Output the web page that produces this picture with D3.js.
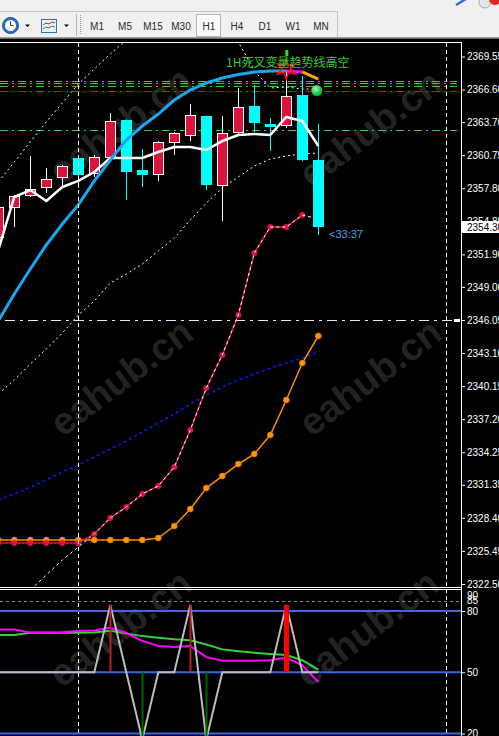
<!DOCTYPE html>
<html>
<head>
<meta charset="utf-8">
<script src="https://d3js.org/d3.v7.min.js"></script>
<style>
  body { margin: 0; background: #000; overflow: hidden; }
  svg { display: block; }
</style>
</head>
<body>
<script>
// ---- data ----
var barIdx = [-1, 0, 1, 2, 3, 4, 5, 6, 7, 8, 9, 10, 11, 12, 13, 14, 15, 16, 17, 18, 19];

var opens  = [2353.45, 2356.13, 2357.20, 2357.91, 2358.80, 2360.50, 2359.16, 2360.59, 2363.89, 2359.43, 2359.07, 2361.93, 2362.55, 2364.24, 2358.09, 2362.82, 2365.14, 2363.53, 2363.44, 2366.12, 2360.32];
var highs  = [2356.50, 2357.20, 2360.68, 2359.61, 2359.87, 2360.59, 2360.77, 2364.51, 2363.95, 2361.30, 2362.00, 2362.80, 2365.32, 2364.30, 2364.24, 2366.74, 2367.01, 2364.07, 2368.35, 2367.81, 2363.53];
var lows   = [2352.90, 2354.34, 2357.02, 2357.38, 2357.91, 2357.82, 2358.80, 2360.50, 2356.75, 2357.91, 2358.45, 2360.77, 2362.01, 2357.64, 2354.88, 2362.55, 2362.82, 2361.12, 2363.17, 2360.23, 2353.63];
var closes = [2356.13, 2357.11, 2357.73, 2358.63, 2359.78, 2358.98, 2360.59, 2363.80, 2359.25, 2358.98, 2361.93, 2362.73, 2364.33, 2358.09, 2362.73, 2365.05, 2363.62, 2363.26, 2366.03, 2360.32, 2354.30];

var maWhite   = [2352.29, 2357.02, 2357.64, 2356.66, 2357.91, 2358.45, 2359.25, 2360.50, 2360.50, 2360.50, 2361.03, 2361.48, 2361.48, 2361.21, 2362.01, 2362.55, 2362.64, 2362.55, 2364.16, 2363.80, 2361.57];
var trendBlue = [2345.96, 2348.37, 2350.60, 2352.74, 2354.61, 2356.31, 2358.45, 2360.32, 2362.10, 2363.35, 2364.42, 2365.67, 2366.56, 2367.19, 2367.63, 2367.95, 2368.17, 2368.26, 2368.26, 2368.17, 2367.54];
var bandUpper = [2358.36, 2360.14, 2361.93, 2363.71, 2365.40, 2367.10, 2368.44, 2369.78, 2371.02, 2372.09, 2372.81, 2373.25, 2373.52, 2373.34, 2372.60, 2370.85, 2368.26, 2366.74, 2366.83, 2366.65, 2366.65];
var bandLower = [2339.45, 2340.70, 2342.12, 2343.46, 2344.89, 2346.49, 2347.74, 2349.35, 2350.15, 2351.04, 2352.20, 2353.36, 2354.97, 2356.48, 2357.82, 2358.80, 2359.78, 2360.41, 2360.68, 2360.86, 2360.94];
var blueDots  = [2329.99, 2330.53, 2331.15, 2331.78, 2332.49, 2333.11, 2333.83, 2334.54, 2335.26, 2336.06, 2336.86, 2337.66, 2338.56, 2339.36, 2340.07, 2340.70, 2341.23, 2341.77, 2342.21, 2342.66, 2343.19];
var redLine   = [2326.16, 2326.16, 2326.16, 2326.16, 2326.16, 2326.16, 2326.96, 2328.39, 2329.37, 2330.53, 2331.24, 2332.94, 2336.24, 2339.98, 2342.93, 2346.49, 2352.02, 2354.34, 2354.34, 2355.41, null];
var whiteTrail = [null, null, 2321.96, 2323.30, 2324.64, 2325.80, 2326.96, 2328.39, 2329.37, 2330.53, 2331.24, 2332.94, 2336.24, 2339.98, 2342.93, 2346.49, 2352.02, 2354.34, 2354.34, 2355.41, 2355.06];
var orangeLine = [2326.42, 2326.42, 2326.42, 2326.42, 2326.42, 2326.42, 2326.42, 2326.42, 2326.42, 2326.42, 2326.60, 2327.67, 2329.19, 2331.06, 2332.13, 2333.20, 2334.10, 2335.79, 2338.91, 2342.21, 2344.62];

var priceTicks = [2369.55, 2366.60, 2363.70, 2360.75, 2357.80, 2354.85, 2351.90, 2349.00, 2346.05, 2343.10, 2340.15, 2337.20, 2334.25, 2331.35, 2328.40, 2325.45, 2322.50];
var lastPrice = 2354.30;
var greenLevels = [2367.37, 2367.19, 2366.92, 2363.00];
var redLevels = [2366.47];
var whiteLevels = [2346.05];
var separatorBars = [4, 27];

var tfLabels = ["M1", "M5", "M15", "M30", "H1", "H4", "D1", "W1", "MN"];
var signalText = "1H死叉变量趋势线高空";
var timerText = "<33:37";

// lower window
var subTicks = [90, 85, 80, 50, 20];
var subBlueLevels = [80, 50, 20];
var subDashLevel = 85;
var oscMagenta = [70.9, 70.9, 69.5, 69.5, 69.6, 70.2, 70.4, 71.8, 69.2, 65.4, 62.8, 62.4, 62.9, 57.4, 55.6, 55.6, 55.6, 55.9, 57.2, 53.4, 45.2];
var oscGreen   = [68.2, 68.2, 69.4, 69.4, 69.4, 69.4, 69.5, 70.3, 69.0, 67.7, 66.9, 66.2, 65.7, 63.6, 61.2, 60.3, 59.5, 58.9, 58.4, 55.9, 51.3];
var oscGray    = [50, 50, 50, 50, 50, 50, 50, 83, 50, 17, 50, 50, 83, 17, 50, 50, 50, 50, 83, 50, 50];
var sigBars  = [6, 8, 11, 12, 17];
var sigVals  = [83, 17, 83, 17, 83];
var sigKinds = ["up", "down", "up", "down", "strong"];

// ---- drawing ----
var W = 499, H = 736;
var axisX = 461;
var font = "'Liberation Sans', Arial, sans-serif";

var x = d3.scaleLinear().domain([-1, 19]).range([-1.7, 318.3]);
var y = d3.scaleLinear().domain([2322.5, 2369.55]).range([584, 56.5]);
var ys = d3.scaleLinear().domain([20, 80]).range([733.5, 611]);

var svg = d3.select("body").append("svg").attr("width", W).attr("height", H);
svg.append("rect").attr("width", W).attr("height", H).attr("fill", "#000");

var defs = svg.append("defs");
defs.append("clipPath").attr("id", "clipMain")
  .append("rect").attr("x", 0).attr("y", 43).attr("width", axisX).attr("height", 544);
defs.append("clipPath").attr("id", "clipSub")
  .append("rect").attr("x", 0).attr("y", 590).attr("width", axisX).attr("height", 146);
var grad = defs.append("radialGradient").attr("id", "ball").attr("cx", "40%").attr("cy", "35%");
grad.append("stop").attr("offset", "0%").attr("stop-color", "#9dffb4");
grad.append("stop").attr("offset", "100%").attr("stop-color", "#12c045");

// watermark
var wm = svg.append("g");
[[120, 125], [370, 128], [121, 377], [370, 377], [120, 628], [367, 628]].forEach(function (p) {
  wm.append("text")
    .attr("transform", "translate(" + p[0] + "," + p[1] + ") rotate(-37)")
    .attr("text-anchor", "middle").attr("dy", "0.35em")
    .style("font-family", font).style("font-size", "38px").style("font-weight", "bold")
    .attr("fill", "#232323")
    .text("eahub.cn");
});

// ---------- main window ----------
var g = svg.append("g").attr("clip-path", "url(#clipMain)");

function hline(sel, data, color, dash, x2) {
  sel.selectAll(null).data(data).enter().append("line")
    .attr("x1", 0).attr("x2", x2)
    .attr("y1", function (d) { return Math.round(y(d)) + 0.5; })
    .attr("y2", function (d) { return Math.round(y(d)) + 0.5; })
    .attr("stroke", color).attr("stroke-width", 1)
    .attr("stroke-dasharray", dash);
}
hline(g, greenLevels, "#32cd32", "8,4,2,4", 457);
hline(g, redLevels, "#e01010", "8,4,2,4", 457);
hline(g, whiteLevels, "#e6e6ff", "10,5,3,5", axisX);
g.select("line:last-child").attr("x1", 5);

// period separators
svg.selectAll(".sep").data(separatorBars).enter().append("line")
  .attr("x1", function (d) { return Math.round(x(d)) + 0.5; })
  .attr("x2", function (d) { return Math.round(x(d)) + 0.5; })
  .attr("y1", 43).attr("y2", H)
  .attr("stroke", "#fff").attr("stroke-dasharray", "4,3");

function lineOf(arr, sc) {
  return d3.line()
    .defined(function (d, i) { return arr[i] != null; })
    .x(function (d, i) { return x(barIdx[i]); })
    .y(function (d, i) { return sc(arr[i]); })(arr);
}

// bands and slow lines
g.append("path").attr("d", lineOf(bandUpper, y)).attr("fill", "none")
  .attr("stroke", "#fff").attr("stroke-width", 1).attr("stroke-dasharray", "2,3");
g.append("path").attr("d", lineOf(bandLower, y)).attr("fill", "none")
  .attr("stroke", "#fff").attr("stroke-width", 1).attr("stroke-dasharray", "2,3");
g.append("path").attr("d", lineOf(blueDots, y)).attr("fill", "none")
  .attr("stroke", "#1414ff").attr("stroke-width", 1.5).attr("stroke-dasharray", "3,3");

// orange marker line
g.append("path").attr("d", lineOf(orangeLine, y)).attr("fill", "none")
  .attr("stroke", "#ff8c00").attr("stroke-width", 1.5);
g.selectAll(".om").data(orangeLine).enter().append("circle")
  .attr("cx", function (d, i) { return x(barIdx[i]); })
  .attr("cy", function (d) { return y(d); })
  .attr("r", 3).attr("fill", "#ff9500").attr("stroke", "#d87000").attr("stroke-width", 0.6);

// crimson marker line with white dotted trail
g.append("path").attr("d", lineOf(redLine, y)).attr("fill", "none")
  .attr("stroke", "#dc143c").attr("stroke-width", 1.5);
g.selectAll(".rm").data(redLine.filter(function (d) { return d != null; })).enter().append("circle")
  .attr("cx", function (d, i) { return x(barIdx[i]); })
  .attr("cy", function (d) { return y(d); })
  .attr("r", 3).attr("fill", "#dc143c");
g.append("path").attr("d", lineOf(whiteTrail, y)).attr("fill", "none")
  .attr("stroke", "#fff").attr("stroke-width", 1).attr("stroke-dasharray", "3,3");

// candles
var bw = 5;
g.selectAll(".wick").data(barIdx).enter().append("line")
  .attr("x1", function (d) { return Math.round(x(d)) + 0.5; })
  .attr("x2", function (d) { return Math.round(x(d)) + 0.5; })
  .attr("y1", function (d, i) { return y(highs[i]); })
  .attr("y2", function (d, i) { return y(lows[i]); })
  .attr("stroke", function (d, i) { return closes[i] >= opens[i] ? "#fff" : "#00ffff"; });
g.selectAll(".body").data(barIdx).enter().append("rect")
  .attr("x", function (d, i) {
    var cx = Math.round(x(d)) + 0.5;
    return closes[i] >= opens[i] ? cx - bw : cx - bw - 0.5;
  })
  .attr("y", function (d, i) {
    var t = Math.round(y(Math.max(opens[i], closes[i])));
    return closes[i] >= opens[i] ? t + 0.5 : t;
  })
  .attr("width", function (d, i) { return closes[i] >= opens[i] ? bw * 2 : bw * 2 + 1; })
  .attr("height", function (d, i) { return Math.max(2, Math.abs(Math.round(y(opens[i])) - Math.round(y(closes[i])))); })
  .attr("fill", function (d, i) { return closes[i] >= opens[i] ? "#dc143c" : "#00ffff"; })
  .attr("stroke", function (d, i) { return closes[i] >= opens[i] ? "#fff" : "none"; })
  .attr("stroke-width", 1);

// white moving average
g.append("path").attr("d", lineOf(maWhite, y)).attr("fill", "none")
  .attr("stroke", "#fff").attr("stroke-width", 2.5).attr("stroke-linejoin", "round");

// trend curve: blue, then magenta, then orange
function segment(from, to) {
  return d3.line()
    .x(function (i) { return x(barIdx[i]); })
    .y(function (i) { return y(trendBlue[i]); })(d3.range(from, to + 1));
}
g.append("path").attr("d", segment(0, 18)).attr("fill", "none").attr("stroke", "#1aa7ec").attr("stroke-width", 3);
g.append("path").attr("d", segment(18, 19)).attr("fill", "none").attr("stroke", "#ff00ff").attr("stroke-width", 3);
g.append("path").attr("d", segment(19, 20)).attr("fill", "none").attr("stroke", "#ffa500").attr("stroke-width", 3);

// signal arrow / star on bar 17
var sx = x(17), sy = y(highs[18]) - 4;
var star = d3.range(12).map(function (k) {
  var a = -Math.PI / 2 + k * Math.PI / 6, r = k % 2 ? 4 : 10;
  return [sx + r * Math.cos(a), sy + 3 + r * Math.sin(a)];
});
g.append("path").attr("d", "M" + star.join("L") + "Z").attr("fill", "none").attr("stroke", "#ff1010").attr("stroke-width", 1.5);
g.append("rect").attr("x", sx - 1).attr("y", 50).attr("width", 3).attr("height", 6).attr("fill", "#20e020");

g.append("text").attr("x", 226).attr("y", 67)
  .style("font-family", "'Noto Sans CJK SC', sans-serif").style("font-size", "12px")
  .attr("fill", "#32cd32").text(signalText);

g.append("circle").attr("cx", x(19) - 1.5).attr("cy", 90.5).attr("r", 5.5).attr("fill", "url(#ball)");

g.append("text").attr("x", 329).attr("y", 238)
  .style("font-family", font).style("font-size", "11px")
  .attr("fill", "#4aa3e6").text(timerText);

// frame
svg.append("line").attr("x1", 0).attr("x2", axisX).attr("y1", 42.5).attr("y2", 42.5).attr("stroke", "#fff");
svg.append("line").attr("x1", 0).attr("x2", axisX).attr("y1", 587.5).attr("y2", 587.5).attr("stroke", "#fff");
svg.append("line").attr("x1", 0).attr("x2", axisX).attr("y1", 589.5).attr("y2", 589.5).attr("stroke", "#fff");
svg.append("line").attr("x1", axisX + 0.5).attr("x2", axisX + 0.5).attr("y1", 42).attr("y2", H).attr("stroke", "#fff");

// price axis
var yAxis = d3.axisRight(y).tickValues(priceTicks).tickSize(4).tickPadding(2).tickFormat(d3.format(".2f"));
var ag = svg.append("g").attr("transform", "translate(" + axisX + ",0)").call(yAxis)
  .attr("font-family", font).attr("font-size", 10);
ag.select(".domain").remove();
ag.selectAll("line").attr("stroke", "#fff");
ag.selectAll("text").attr("fill", "#fff");

// level marker at the white line
svg.append("rect").attr("x", 454).attr("y", Math.round(y(whiteLevels[0])) - 1).attr("width", 6).attr("height", 3).attr("fill", "#fff");

// current price box
svg.append("rect").attr("x", axisX + 1).attr("y", Math.round(y(lastPrice)) - 6).attr("width", 38).attr("height", 12).attr("fill", "#fff");
svg.append("text").attr("x", axisX + 6).attr("y", y(lastPrice)).attr("dy", "0.35em")
  .style("font-family", font).style("font-size", "10px").attr("fill", "#000")
  .text(d3.format(".2f")(lastPrice));

// ---------- lower window ----------
var s = svg.append("g").attr("clip-path", "url(#clipSub)");

s.append("line").attr("x1", 0).attr("x2", axisX)
  .attr("y1", Math.round(ys(subDashLevel)) + 0.5).attr("y2", Math.round(ys(subDashLevel)) + 0.5)
  .attr("stroke", "#8a8a8a").attr("stroke-dasharray", "3,3");
s.selectAll(".bl").data(subBlueLevels).enter().append("line")
  .attr("x1", 0).attr("x2", axisX)
  .attr("y1", function (d) { return ys(d); }).attr("y2", function (d) { return ys(d); })
  .attr("stroke", "#3f66e0").attr("stroke-width", 2);

s.append("path").attr("d", lineOf(oscGreen, ys)).attr("fill", "none").attr("stroke", "#32d232").attr("stroke-width", 2);
s.append("path").attr("d", lineOf(oscMagenta, ys)).attr("fill", "none").attr("stroke", "#ff00ff").attr("stroke-width", 2);
s.append("path").attr("d", lineOf(oscGray, ys)).attr("fill", "none").attr("stroke", "#bdbdbd").attr("stroke-width", 2);

s.selectAll(".sig").data(sigBars).enter().append("line")
  .attr("x1", function (d) { return Math.round(x(d)) + 0.5; })
  .attr("x2", function (d) { return Math.round(x(d)) + 0.5; })
  .attr("y1", ys(50))
  .attr("y2", function (d, i) { return ys(sigVals[i]); })
  .attr("stroke", function (d, i) { return sigKinds[i] == "down" ? "#006400" : sigKinds[i] == "up" ? "#b22222" : "#ff0000"; })
  .attr("stroke-width", function (d, i) { return sigKinds[i] == "strong" ? 5 : 2; });

var subAxis = d3.axisRight(ys).tickValues(subTicks).tickSize(4).tickPadding(2);
var sg = svg.append("g").attr("transform", "translate(" + axisX + ",0)").call(subAxis)
  .attr("font-family", font).attr("font-size", 10);
sg.select(".domain").remove();
sg.selectAll("line").attr("stroke", "#fff");
sg.selectAll("text").attr("fill", "#fff");
sg.selectAll(".tick").filter(function (d) { return d == 90 || d == 85; }).select("line").remove();
sg.selectAll(".tick").filter(function (d) { return d == 90; }).select("text").attr("dy", "0.75em");

// ---------- toolbar ----------
var tb = svg.append("g");
tb.append("rect").attr("width", W).attr("height", 39).attr("fill", "#f0f0f0");
tb.append("line").attr("x1", 0).attr("x2", 337).attr("y1", 11.5).attr("y2", 11.5).attr("stroke", "#c4c4c4");
tb.append("line").attr("x1", 337.5).attr("x2", 337.5).attr("y1", 11).attr("y2", 38).attr("stroke", "#c4c4c4");
tb.append("line").attr("x1", 0).attr("x2", W).attr("y1", 37.5).attr("y2", 37.5).attr("stroke", "#9a9a9a");
tb.append("line").attr("x1", 0).attr("x2", W).attr("y1", 38.5).attr("y2", 38.5).attr("stroke", "#6a6a6a");

// clock icon
tb.append("circle").attr("cx", 10.5).attr("cy", 25.5).attr("r", 8).attr("fill", "#2a6fc6").attr("stroke", "#1b4f97");
tb.append("circle").attr("cx", 10.5).attr("cy", 25.5).attr("r", 5.5).attr("fill", "#fdfdfd");
tb.append("path").attr("d", "M10.5,21.5V25.5H13.5").attr("fill", "none").attr("stroke", "#333").attr("stroke-width", 1);
tb.append("path").attr("d", "M25,24.5H30L27.5,27Z").attr("fill", "#000");
// chart icon
tb.append("rect").attr("x", 41.5).attr("y", 19.5).attr("width", 15).attr("height", 13).attr("fill", "#e9f1fb").attr("stroke", "#3c6cb4");
tb.append("path").attr("d", "M43,25L46,23L49,24L52,22L55,23").attr("fill", "none").attr("stroke", "#c03030");
tb.append("path").attr("d", "M43,29L46,27L49,28L52,26L55,27").attr("fill", "none").attr("stroke", "#2f9a2f");
tb.append("path").attr("d", "M64,24.5H69L66.5,27Z").attr("fill", "#000");
// separator + grip
tb.append("line").attr("x1", 76.5).attr("x2", 76.5).attr("y1", 14).attr("y2", 36).attr("stroke", "#b8b8b8");
tb.append("line").attr("x1", 80.5).attr("x2", 80.5).attr("y1", 15).attr("y2", 35).attr("stroke", "#9a9a9a").attr("stroke-dasharray", "1,1");

var tfx = d3.scaleBand().domain(tfLabels).range([83, 335]);
tb.append("rect").attr("x", tfx("H1") + 1.5).attr("y", 14.5).attr("width", 24).attr("height", 22)
  .attr("fill", "#fafafa").attr("stroke", "#b4b4b4");
tb.selectAll(".tf").data(tfLabels).enter().append("text")
  .attr("x", function (d) { return tfx(d) + tfx.bandwidth() / 2; })
  .attr("y", 29.5).attr("text-anchor", "middle")
  .style("font-family", font).style("font-size", "10px").attr("fill", "#2b2b2b")
  .text(function (d) { return d; });

// corner icons
tb.append("path").attr("d", "M456,5L466,-1").attr("stroke", "#2f6fd0").attr("stroke-width", 2.5);
tb.append("circle").attr("cx", 485).attr("cy", 2).attr("r", 6).attr("fill", "#e6e6e6").attr("stroke", "#a8a8a8");
tb.append("circle").attr("cx", 495).attr("cy", -1).attr("r", 6).attr("fill", "#e02525");
</script>
</body>
</html>
